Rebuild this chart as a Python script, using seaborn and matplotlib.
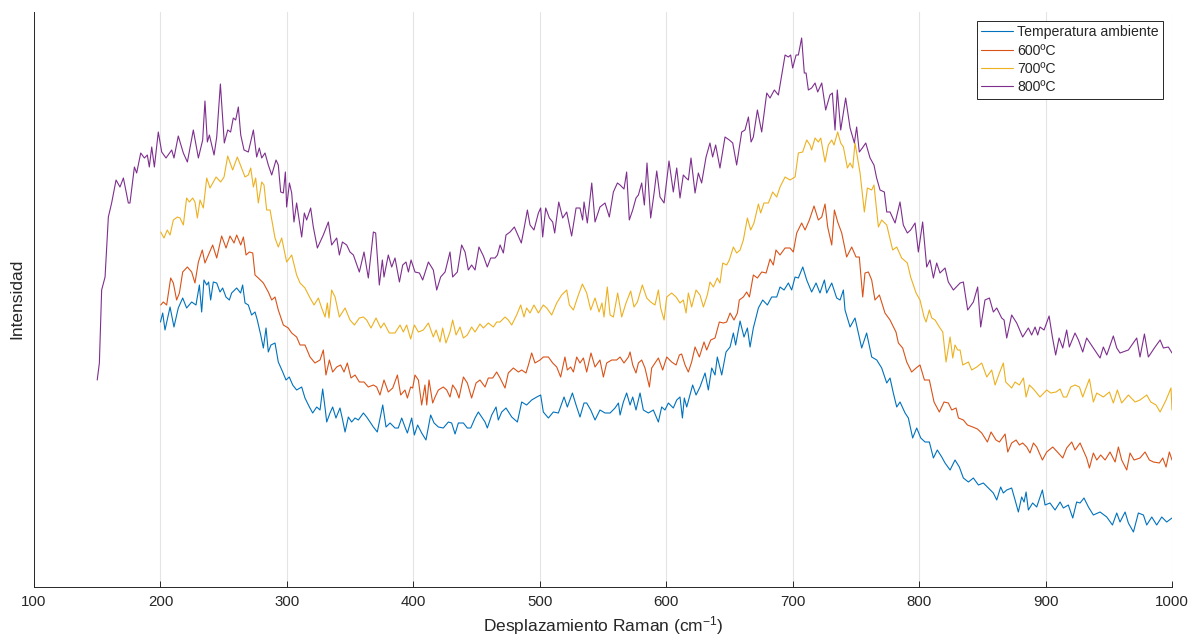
import matplotlib
matplotlib.use("Agg")
import matplotlib.pyplot as plt
import seaborn as sns
import pandas as pd

# Raman spectra (shift in cm^-1, intensity in arbitrary units)
shift_amb = [200.0, 201.8, 203.6, 207.6, 210.7, 214.1, 217.6, 220.7, 224.7, 228.1,
             230.8, 232.6, 234.4, 236.6, 238.1, 239.7, 241.8, 244.5, 247.1, 249.2,
             251.8, 254.5, 256.3, 260.3, 263.4, 265.0, 266.9, 269.5, 272.1, 274.8,
             276.6, 279.3, 281.4, 283.5, 285.3, 287.4, 290.6, 293.2, 296.7, 299.3,
             301.9, 304.6, 307.7, 311.7, 314.3, 317.8, 320.4, 323.6, 326.2, 328.3,
             330.1, 331.5, 334.1, 336.2, 338.8, 342.0, 344.1, 346.0, 348.6, 351.2,
             353.9, 356.5, 360.5, 363.1, 365.7, 368.4, 371.5, 375.8, 378.4, 381.6,
             385.5, 388.1, 390.8, 393.4, 395.3, 398.7, 400.8, 403.4, 406.6, 410.0,
             413.7, 416.4, 419.8, 423.7,
             427.7, 430.3, 433.0, 435.6, 439.6, 442.7, 445.4, 448.8, 451.4, 454.1,
             456.7, 458.5, 462.0, 465.4, 467.2, 469.9, 473.3, 477.8, 482.3, 485.7,
             489.6, 493.6, 497.6, 500.7, 502.8, 506.8, 510.7, 514.7, 519.2, 521.8,
             525.8, 528.7, 531.8, 535.0, 537.1, 540.3, 543.7, 547.6, 551.6, 555.6,
             559.5, 562.2, 563.5, 566.1, 568.7, 571.4, 573.5, 576.1,
             579.3, 581.9, 585.9, 589.8, 593.8, 596.4, 599.0, 601.7, 605.6, 608.3,
             610.9, 612.8, 614.3, 616.2, 620.9, 623.6, 626.7, 630.7, 633.3, 636.0,
             638.6, 640.4, 643.9, 647.3, 650.5, 653.1, 654.9, 658.4, 661.5, 664.2,
             666.3, 668.9, 672.9, 676.3, 680.0, 683.4, 687.4, 690.0, 693.2, 696.6,
             699.2, 701.9, 704.5, 708.0, 711.1, 715.0, 718.5, 721.6, 725.1, 726.9,
             730.9, 734.8, 737.5, 740.1, 741.4, 745.4, 749.3, 754.6, 758.5, 762.5,
             766.5, 770.4, 774.4, 777.0,
             779.6, 782.3, 784.9, 788.9, 791.5, 794.9, 798.1, 801.3, 804.7, 808.1,
             811.3, 814.4, 817.9, 820.5, 824.5, 828.4, 831.8, 835.0, 839.0, 842.9,
             846.9, 850.8, 854.8, 858.7, 861.4, 864.5, 866.6, 869.3, 873.2, 875.9,
             878.5, 881.1, 883.0, 884.6, 886.4, 889.8, 893.0, 897.5, 899.6, 903.5,
             907.5, 911.5, 914.1, 918.0, 921.5, 924.6, 927.3, 930.4, 933.9, 937.8,
             943.1, 948.4, 952.9, 956.3, 958.9, 962.9, 965.5, 969.5, 973.4, 977.4,
             980.0, 984.0, 987.9, 991.9, 995.8, 1000.0]
int_amb = [265, 274, 257, 280, 260, 279, 289, 279, 285, 282,
           302, 275, 307, 302, 305, 287, 305, 304, 295, 299,
           290, 287, 294, 299, 294, 302, 284, 282, 272, 275,
           267, 252, 239, 259, 235, 242, 244, 225, 215, 207,
           210, 202, 197, 200, 189, 180, 174, 180, 177, 198,
           180, 165, 174, 180, 169, 179, 167, 155, 170, 165,
           169, 167, 174, 170, 165, 160, 155, 182, 160, 164,
           159, 159, 169, 160, 154, 169, 152, 162, 154, 147,
           172, 164, 160, 159,
           165, 164, 153, 164, 164, 159, 159, 169, 175, 170,
           165, 159, 172, 180, 167, 175, 179, 170, 165, 185,
           182, 187, 190, 192, 175, 169, 175, 174, 190, 180,
           194, 182, 170, 184, 184, 177, 167, 177, 174, 174,
           179, 184, 172, 185, 194, 182, 190, 177,
           194, 177, 174, 177, 165, 180, 177, 184, 179, 187,
           190, 169, 189, 180, 202, 192, 200, 214, 197, 219,
           212, 230, 212, 235, 240, 254, 242, 266, 250, 259,
           240, 259, 279, 287, 282, 290, 290, 300, 297, 304,
           297, 310, 309, 320, 307, 295, 304, 294, 307, 294,
           304, 289, 287, 297, 277, 260, 269, 239, 254, 230,
           227, 219, 204, 209,
           194, 180, 185, 174, 169, 149, 159, 149, 145, 145,
           129, 137, 130, 124, 117, 127, 120, 109, 105, 109,
           102, 104, 99, 94, 87, 100, 94, 97, 99, 87,
           75, 90, 85, 95, 77, 84, 80, 97, 82, 84,
           77, 85, 79, 82, 69, 85, 84, 89, 80, 72,
           75, 70, 62, 74, 65, 75, 64, 55, 74, 72,
           62, 70, 62, 70, 65, 69]

shift_600 = [200.2, 202.3, 204.9, 208.1, 210.2, 212.8, 215.0, 217.6, 221.3, 224.7,
             227.3, 230.0, 233.1, 235.2, 237.9, 241.3, 244.5, 248.4, 251.9, 255.0,
             258.2, 260.3, 263.5, 265.6, 267.7, 270.3, 273.0, 274.8, 277.4, 281.4,
             285.3, 288.0, 290.6, 293.2, 297.2, 301.1, 303.8, 307.7, 310.4, 314.3,
             318.3, 322.2, 326.2, 328.8, 330.9, 333.6, 336.2, 339.4, 342.5, 345.2,
             347.8, 350.7, 353.9, 357.3, 361.0, 364.4, 368.4, 371.0, 373.6,
             376.8, 380.2, 383.7, 387.4, 390.0, 393.4, 395.3, 397.9, 399.5, 401.3,
             404.0, 406.6, 409.2, 410.6, 412.4, 415.3, 417.2, 419.8, 423.7, 426.4,
             429.0, 431.1, 433.8, 436.1, 439.6, 442.7, 446.1, 449.6, 452.7, 456.7,
             459.3, 462.8, 465.9, 468.6, 472.5, 475.1, 479.1, 483.1, 485.7, 489.1,
             491.0, 493.6, 496.2, 500.2, 502.8, 506.8, 510.2, 513.4, 516.5, 519.9,
             521.8, 524.4, 526.6, 529.2, 531.8, 534.5, 537.1, 540.5, 543.7, 547.6,
             550.3, 552.9, 556.9, 560.8, 563.5, 566.6, 570.1, 571.4, 573.5, 576.1,
             578.0, 580.6, 583.2, 586.7, 588.5, 591.1, 593.8, 597.2, 600.4, 604.3,
             607.8, 610.4,
             612.2, 614.9, 617.5, 620.1, 622.8, 626.2, 629.9, 632.0, 635.2, 638.6,
             642.0, 645.2, 647.8, 650.5, 653.6, 656.3, 657.8, 661.0, 663.6, 665.8,
             668.9, 672.1, 675.5, 679.0, 682.1, 684.7,
             686.8, 690.0, 694.0, 697.9, 700.5, 703.2, 707.1, 709.8, 713.2, 716.9,
             720.3, 723.0, 725.6, 727.7, 730.9, 733.0, 735.6, 738.8, 742.7, 746.7,
             750.1, 752.7, 755.4, 757.2, 759.9, 762.5, 765.1, 768.6, 773.0, 777.0,
             781.7,
             783.6, 787.0, 790.2, 794.1, 797.6, 800.7, 804.2, 808.1, 811.8, 816.0,
             819.7, 823.1, 825.8, 829.2, 831.1, 835.0, 838.2, 842.4, 846.1, 849.5,
             854.0, 856.9, 860.8, 863.5, 868.0, 870.1, 873.2, 876.7, 879.3, 881.9,
             885.1, 887.7, 890.4, 893.0, 897.5, 900.9, 905.7, 910.1, 913.6, 916.7,
             920.7, 923.3, 927.3, 930.4, 932.5, 934.7, 937.8, 940.5, 943.6, 947.1,
             951.0, 955.0, 957.6, 960.2, 964.2, 966.8, 970.0, 974.7, 978.7, 982.1,
             985.3, 990.0, 992.7, 995.3, 997.9, 1000.0]
int_600 = [282, 285, 282, 309, 304, 287, 294, 315, 320, 315,
           304, 325, 337, 324, 332, 342, 329, 351, 339, 351,
           344, 352, 342, 350, 332, 335, 334, 312, 309, 304,
           295, 287, 290, 277, 262, 259, 254, 250, 242, 242,
           230, 224, 227, 237, 212, 227, 215, 220, 222, 215,
           224, 209, 212, 205, 205, 200, 202, 200, 192,
           207, 195, 199, 212, 192, 197, 189, 200, 199, 212,
           207, 182, 202, 182, 207, 184, 190, 197, 200, 197,
           190, 202, 197, 189, 210, 204, 189, 204, 207, 200,
           209, 209, 215, 209, 199, 214, 219, 215, 217, 214,
           222, 234, 224, 227, 230, 230, 224, 220, 210, 230,
           217, 220, 215, 230, 224, 229, 215, 234, 220, 227,
           210, 224, 227, 227, 230, 224, 230, 235, 222, 214,
           224, 227, 219, 200, 219, 224, 229, 217, 230, 225,
           222, 232,
           233, 222, 215, 225, 240, 230, 245, 237, 247, 249,
           265, 264, 265, 274, 267, 274, 287, 290, 295, 290,
           312, 309, 315, 314, 328, 322,
           337, 332, 339, 339, 335, 354, 364, 357, 367, 381,
           367, 370, 383, 360, 342, 377, 365, 354, 330, 340,
           330, 330, 290, 314, 315, 307, 287, 292, 274, 267,
           255,
           244, 239, 225, 215, 219, 222, 207, 207, 185, 175,
           185, 184, 177, 179, 169, 167, 162, 160, 158, 154,
           145, 155, 147, 145, 153, 135, 144, 147, 142, 144,
           140, 134, 144, 140, 127, 135, 140, 134, 129, 139,
           145, 137, 144, 135, 129, 119, 134, 127, 132, 127,
           135, 125, 140, 127, 117, 134, 127, 129, 135, 127,
           125, 124, 129, 120, 135, 127]

shift_700 = [200.2, 202.8, 205.4, 207.6, 210.2, 213.4, 215.5, 218.1, 220.7, 222.9,
             225.5, 227.3, 229.2, 231.3, 233.9, 236.6, 239.2, 244.0, 247.6, 250.3,
             253.2, 257.1, 260.8, 264.2, 266.9, 269.5, 271.4, 273.5, 275.3, 277.4,
             280.1, 281.9, 284.0, 286.7, 290.6, 293.2, 295.9, 299.8, 303.8, 307.7,
             310.4, 314.3, 318.3, 321.5, 324.9, 327.5, 330.2, 332.0, 333.3, 335.4,
             338.1, 341.5, 346.0, 349.9, 353.4, 357.3, 360.5, 363.1, 366.5, 370.5,
             374.2, 376.8,
             381.0, 385.5, 389.5, 392.1, 394.7, 397.9, 400.8, 404.0, 407.9, 411.9,
             415.8, 418.0, 421.1, 423.2, 425.8, 429.0, 431.1, 433.8, 436.9, 439.6,
             442.7, 446.1, 448.8, 452.7, 455.4, 459.3, 463.3, 465.9, 468.6, 472.5,
             475.1, 477.8, 481.7, 484.9, 487.5, 489.6, 492.3, 495.4, 498.9, 502.8,
             505.5, 509.4, 513.4, 517.3, 521.3, 523.4, 526.6, 529.7, 533.7, 537.1,
             540.3, 543.7, 546.9, 549.2, 550.8, 553.4, 555.6, 558.2, 561.6, 564.8,
             568.2, 571.9, 574.5, 577.2, 581.1, 584.6, 587.7, 591.1, 593.8, 595.6,
             598.3, 600.4, 604.3, 607.8,
             610.9, 613.5, 615.7, 617.5, 620.1, 623.6, 626.7, 629.4, 632.5, 634.6,
             637.3, 640.4, 642.5, 644.7, 647.8, 649.9, 653.1, 655.7, 658.4, 661.0,
             664.2, 666.8, 669.4, 672.9, 674.7, 677.3, 680.8, 684.2, 687.4, 690.0,
             694.0, 697.9, 701.9, 704.5, 707.9, 711.1, 713.7, 715.0, 717.7, 720.3,
             722.2, 725.6, 728.2, 730.9, 732.7, 735.6, 738.0, 740.1, 743.3, 745.4,
             747.5, 749.3, 753.3, 756.7, 759.1, 762.5, 764.3, 767.8, 770.4, 774.4,
             779.1, 782.3, 786.2, 790.7, 793.3, 797.6, 800.7, 803.9,
             805.5, 808.1, 810.0, 812.6, 816.0, 818.7, 821.3, 824.5, 826.6, 828.4,
             830.5, 832.4, 834.5, 839.0, 841.6, 845.6, 849.5, 853.5, 857.4, 860.1,
             863.5, 866.6, 868.5, 873.2, 875.9, 879.3, 882.5, 884.6, 887.2, 890.4,
             895.6, 900.9, 904.1, 908.3, 911.5, 914.1, 916.7, 919.9, 923.3, 926.8,
             929.4, 932.0, 934.7, 937.8, 940.5, 945.7, 950.5, 953.6, 956.8, 960.2,
             965.5, 970.8, 974.7, 980.0, 983.2, 987.4, 990.6, 995.3, 999.2, 1000.0]
int_700 = [355, 349, 357, 352, 367, 370, 369, 362, 389, 385,
           389, 385, 369, 387, 379, 409, 399, 410, 405, 410,
           431, 417, 430, 419, 410, 412, 419, 400, 409, 384,
           405, 402, 377, 377, 349, 340, 349, 325, 332, 312,
           304, 299, 289, 282, 289, 279, 270, 284, 269, 297,
           290, 270, 279, 267, 262, 269, 270, 267, 259, 269,
           259, 264,
           254, 254, 262, 255, 262, 248, 262, 255, 257, 264,
           250, 257, 245, 259, 244, 255, 267, 252, 260, 249,
           252, 260, 255, 263, 259, 264, 260, 265, 265, 270,
           267, 262, 272, 282, 270, 279, 274, 282, 274, 282,
           279, 272, 284, 292, 297, 282, 277, 289, 303, 294,
           277, 289, 275, 284, 270, 300, 272, 270, 294, 270,
           284, 296, 280, 285, 302, 289, 285, 282, 297, 279,
           267, 290, 294, 290,
           284, 287, 274, 294, 280, 297, 292, 280, 292, 305,
           300, 309, 304, 324, 322, 327, 340, 334, 337, 347,
           369, 357, 364, 383, 374, 384, 384, 395, 390, 400,
           410, 407, 410, 434, 435, 447, 442, 437, 449, 445,
           449, 425, 442, 447, 442, 455, 444, 440, 419, 424,
           419, 444, 414, 375, 399, 397, 402, 360, 367, 362,
           337, 340, 329, 324, 310, 294, 287, 270,
           265, 277, 269, 267, 260, 255, 225, 250, 229, 242,
           237, 237, 222, 225, 217, 220, 224, 210, 217, 202,
           214, 224, 205, 199, 205, 202, 209, 190, 202, 198,
           190, 197, 194, 195, 198, 190, 190, 200, 202, 200,
           190, 199, 208, 185, 194, 190, 195, 184, 197, 184,
           192, 185, 187, 192, 185, 182, 175, 187, 199, 177]

shift_800 = [150.0, 151.7, 153.5, 156.2, 158.8, 161.4, 164.9, 168.0, 170.7, 174.6,
             175.9, 179.4, 181.2, 184.4, 187.3, 189.6, 191.2, 193.1, 195.2, 198.3,
             201.0, 204.4, 208.9, 210.7, 214.1, 218.1, 221.3, 226.0, 230.0, 233.4,
             235.2, 237.1, 238.7, 242.4, 244.5, 247.4, 250.5, 253.2, 255.5, 257.6,
             259.5, 261.6, 263.5, 266.1, 269.5, 273.5, 276.1, 278.2, 280.1, 282.7,
             285.3, 288.0, 291.4, 293.2, 295.1, 297.2, 298.8, 299.8, 302.0, 303.8,
             305.6, 307.7, 311.7, 313.8, 315.6, 318.8, 320.9, 324.1, 328.8, 332.8,
             335.4, 339.4, 341.5, 343.9, 347.3, 349.9, 352.6, 357.3, 361.0, 364.4,
             368.4, 370.2, 373.1, 375.5, 376.8, 380.2,
             382.9, 385.5, 389.0, 391.6, 394.2, 396.1, 398.2, 401.3, 404.8, 407.4,
             411.9, 415.8, 418.5, 421.6, 425.1, 429.0, 431.1, 434.8, 438.2, 440.9,
             443.5, 446.1, 448.8, 451.9, 455.4, 458.5, 461.2, 464.6, 466.5, 468.6,
             471.2, 473.3, 476.5, 479.9, 482.3, 485.4, 487.5, 490.2, 492.3, 495.4,
             498.9, 500.7, 502.3, 504.7, 507.6, 510.2, 511.8, 515.0, 518.1, 521.3,
             525.2, 528.7, 531.8, 533.9, 535.0, 537.6, 541.1, 543.7, 547.6, 551.6,
             555.0, 558.2, 561.4, 563.5, 566.6, 568.7, 570.8, 573.5, 576.1, 578.0,
             580.6, 582.7, 584.8, 587.7, 590.4, 592.5, 595.1, 598.3, 602.2, 605.6,
             608.3,
             610.9, 613.5, 615.7, 617.5, 619.6, 622.8, 625.4, 628.0, 631.5, 634.6,
             636.7, 639.1, 642.5, 646.5, 649.9, 652.6, 655.7, 659.7, 662.3, 665.0,
             667.1, 668.9, 672.1, 675.5, 679.5, 682.1, 685.5, 688.7, 694.0, 696.6,
             698.4, 700.0, 702.7, 704.5, 707.1, 709.2, 710.6, 712.4, 715.0, 717.7,
             719.8, 723.0, 726.1, 729.5, 731.4, 733.5, 735.3, 738.0, 741.9, 745.4,
             748.8, 750.6, 752.7, 755.1, 757.8, 761.2, 764.3, 766.4, 769.1, 772.5,
             774.4, 777.0, 781.0, 784.9, 787.5, 790.7, 793.3, 796.8, 799.4, 802.8,
             806.0, 808.6, 811.3, 813.9, 816.5, 820.5, 823.1, 827.1, 832.4, 835.0,
             838.4,
             842.9, 846.3, 848.7, 852.1, 855.6, 858.7, 861.4, 865.3, 867.2, 869.3,
             873.2, 877.2, 881.9, 886.4, 889.0, 891.7, 893.8, 895.6, 898.8, 902.8,
             905.4, 908.0, 910.7, 913.6, 916.7, 918.8, 923.3, 926.0, 929.4, 932.5,
             937.8, 943.1, 945.7, 948.4, 953.6, 956.3, 958.9, 965.5, 972.1, 974.7,
             978.2, 981.3, 986.6, 990.6, 993.2, 997.1, 1000.0]
int_800 = [207, 224, 297, 310, 370, 384, 407, 400, 409, 384,
           384, 420, 414, 434, 429, 432, 420, 440, 420, 455,
           435, 429, 437, 429, 451, 434, 425, 457, 429, 447,
           486, 445, 452, 432, 450, 503, 444, 457, 455, 469,
           467, 480, 452, 437, 435, 457, 430, 439, 429, 434,
           422, 412, 427, 422, 395, 394, 415, 380, 404, 394,
           365, 384, 350, 374, 367, 379, 360, 339, 352, 365,
           342, 349, 332, 345, 342, 335, 332, 315, 335, 309,
           355, 354, 302, 327, 310, 332,
           320, 329, 305, 322, 325, 315, 327, 315, 314, 307,
           325, 317, 297, 310, 315, 335, 310, 315, 342, 335,
           317, 322, 317, 340, 331, 320, 329, 329, 332, 342,
           334, 352, 355, 360, 353, 344, 358, 377, 362, 357,
           374, 379, 350, 379, 369, 365, 354, 385, 369, 375,
           351, 379, 379, 367, 385, 364, 404, 365, 380, 384,
           370, 395, 404, 402, 398, 415, 367, 377, 389, 392,
           404, 382, 424, 369, 394, 416, 390, 384, 426, 395,
           419,
           389, 412, 409, 407, 429, 394, 414, 404, 430, 444,
           430, 442, 419, 450, 447, 444, 422, 455, 457, 470,
           445, 450, 477, 455, 494, 489, 497, 492, 532, 530,
           532, 519, 532, 532, 549, 514, 514, 497, 499, 504,
           495, 504, 477, 492, 494, 457, 497, 457, 489, 459,
           444, 460, 435, 439, 444, 429, 422, 409, 397, 395,
           375, 375, 364, 385, 362, 354, 357, 364, 335, 365,
           320, 327, 309, 324, 314, 319, 305, 297, 304, 305,
           277,
           285, 300, 260, 287, 289, 275, 279, 269, 267, 249,
           272, 264, 250, 259, 252, 260, 252, 260, 257, 271,
           250, 232, 249, 239, 257, 240, 254, 247, 235, 249,
           239, 229, 240, 232, 251, 239, 234, 237, 249, 230,
           253, 230, 240, 247, 239, 240, 234]

series_labels = ["Temperatura ambiente", "600ºC", "700ºC", "800ºC"]
series_colors = ["#0072BD", "#D95319", "#EDB120", "#7E2F8E"]
x_ticks = [100, 200, 300, 400, 500, 600, 700, 800, 900, 1000]

frames = []
for label, xs, ys in zip(series_labels,
                         [shift_amb, shift_600, shift_700, shift_800],
                         [int_amb, int_600, int_700, int_800]):
    frames.append(pd.DataFrame({"shift": xs, "intensity": ys, "serie": label}))
spectra = pd.concat(frames, ignore_index=True)

sns.set_theme(style="white")
plt.rcParams["font.family"] = ["Liberation Sans", "DejaVu Sans"]
plt.rcParams["mathtext.fontset"] = "custom"
plt.rcParams["mathtext.rm"] = "Liberation Sans"
plt.rcParams["mathtext.it"] = "Liberation Sans:italic"
plt.rcParams["mathtext.default"] = "regular"

ink = "#262626"
fig = plt.figure(figsize=(11.92, 6.42), dpi=100)
ax = fig.add_axes([34 / 1192, 55 / 642, 1138 / 1192, 575.5 / 642])

sns.lineplot(data=spectra, x="shift", y="intensity", hue="serie",
             hue_order=series_labels, palette=dict(zip(series_labels, series_colors)),
             estimator=None, sort=False, linewidth=0.8, ax=ax)

ax.set_xlim(100, 1000)
ax.set_ylim(0, 575.5)
ax.set_xticks(x_ticks)
ax.set_xticklabels([str(t) for t in x_ticks])
ax.set_yticks([])
ax.grid(axis="x", color="#e4e4e4", linewidth=0.8)
ax.grid(axis="y", visible=False)
ax.set_axisbelow(True)

for side in ("top", "right"):
    ax.spines[side].set_visible(False)
for side in ("left", "bottom"):
    ax.spines[side].set_color(ink)
    ax.spines[side].set_linewidth(0.7)

ax.tick_params(axis="x", direction="in", length=4.5, width=0.7, color=ink,
               labelcolor=ink, labelsize=10.8, pad=5.5, bottom=True)

ax.set_xlabel(r"Desplazamiento Raman (cm$^{-1}$)", fontsize=12.5, color=ink, labelpad=4)
ax.set_ylabel("Intensidad", fontsize=12.5, color=ink, labelpad=7)

leg = ax.legend(loc="upper right", bbox_to_anchor=(0.992, 0.9835), borderaxespad=0,
                fontsize=10.2, frameon=True, fancybox=False, framealpha=1,
                edgecolor=ink, handlelength=2.3, handletextpad=0.25,
                borderpad=0.3, labelspacing=0.31)
leg.get_frame().set_linewidth(0.7)
for line in leg.get_lines():
    line.set_linewidth(0.8)
for txt in leg.get_texts():
    txt.set_color(ink)

fig.savefig("out.png", dpi=100)
